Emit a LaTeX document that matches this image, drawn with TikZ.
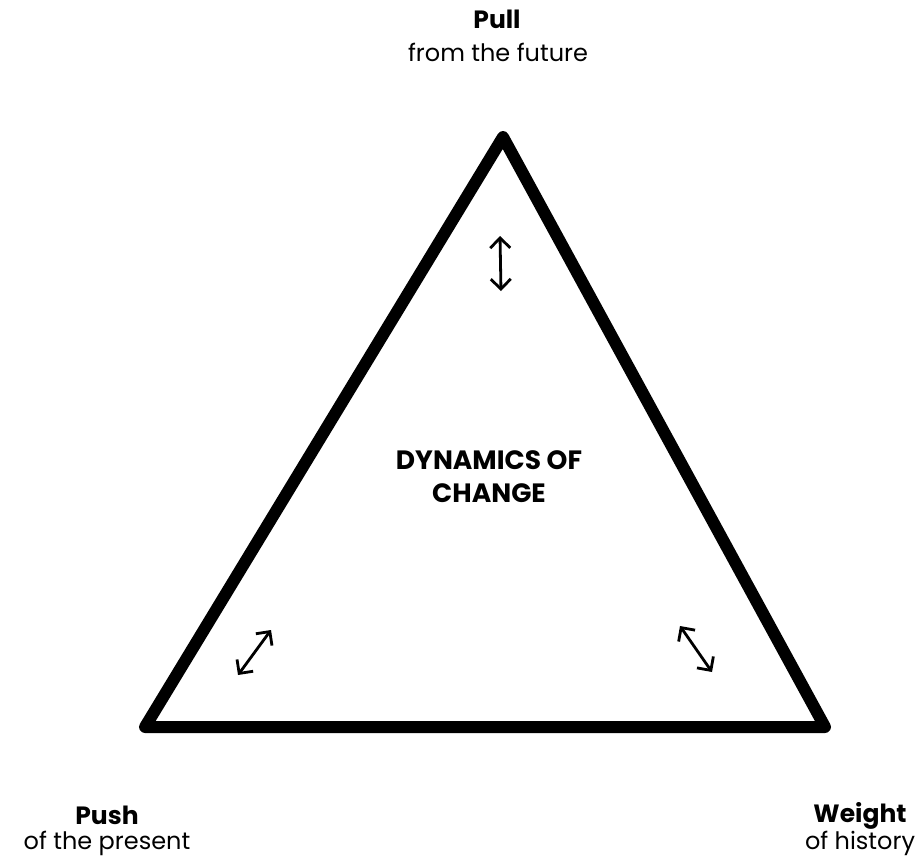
\documentclass[tikz,border=0pt]{standalone}
\usepackage{fontspec}
\setmainfont{Poppins}
\usepackage{tikz}
\usetikzlibrary{arrows.meta,positioning,calc}
\tikzset{
	headlbl/.style={font=\fontsize{25}{27}\selectfont\bfseries, inner sep=0pt, anchor=base},
	sublbl/.style={font=\fontsize{24}{26}\selectfont, inner sep=0pt, anchor=base},
	corelbl/.style={font=\fontsize{26.5}{33}\selectfont\bfseries, align=center, inner sep=0pt},
	tribord/.style={line width=12pt, line join=round, line cap=round},
	pullarr/.style={{Straight Barb[length=10pt,width=20pt]}-{Straight Barb[length=10pt,width=20pt]}, line width=2.8pt, line cap=round}
}
\begin{document}
\begin{tikzpicture}[x=1pt, y=-1pt]
			\useasboundingbox (0,0) rectangle (923,863);
			\coordinate (top) at (503,137);
			\coordinate (left) at (145,727);
			\coordinate (right) at (825,727);
			\draw[tribord] (top) -- (left) -- (right) -- cycle;
			\node[corelbl] (core) at (489,477) {DYNAMICS OF\\CHANGE};
			\node[headlbl] (pull) at (497,28) {Pull};
			\node[sublbl] (pullsub) at (498,61) {from the future};
			\node[headlbl] (push) at (107,824) {Push};
			\node[sublbl] (pushsub) at (107,849) {of the present};
			\node[headlbl] (weight) at (860,822) {Weight};
			\node[sublbl] (weightsub) at (860,849) {of history};
			\coordinate (a1) at (500,236);
			\coordinate (a2) at (501,291);
			\coordinate (b1) at (271,630);
			\coordinate (b2) at (238,675);
			\coordinate (c1) at (680,626);
			\coordinate (c2) at (712,672);
			\draw[pullarr] (a1) -- (a2);
			\draw[pullarr] (b1) -- (b2);
			\draw[pullarr] (c1) -- (c2);
		\end{tikzpicture}
\end{document}
